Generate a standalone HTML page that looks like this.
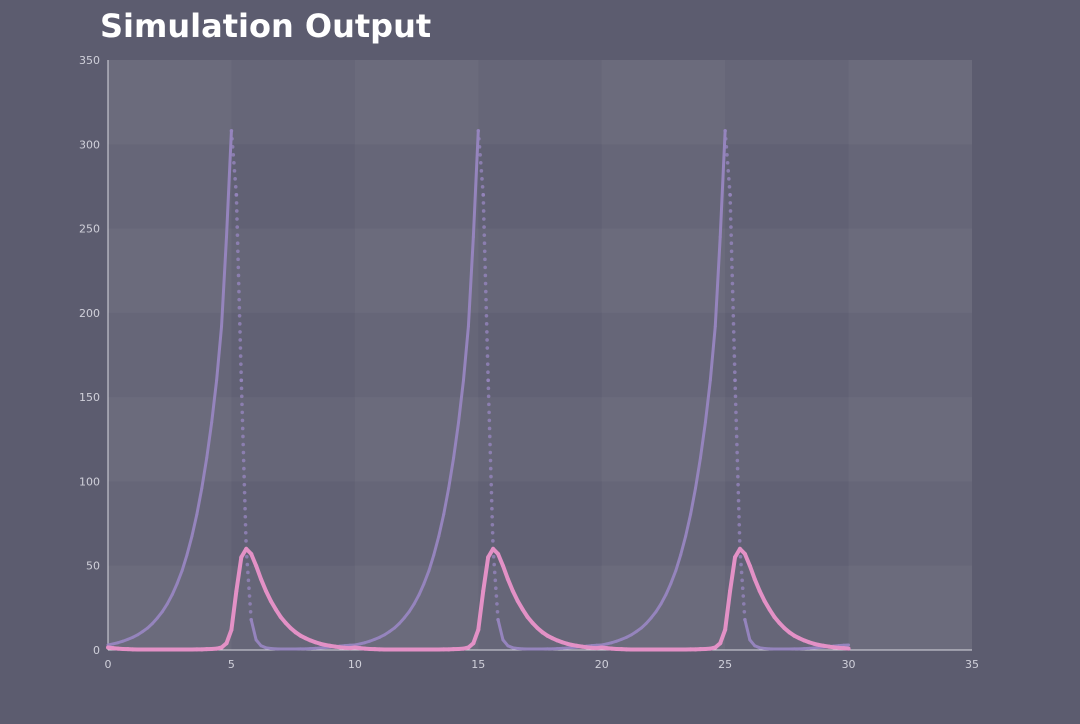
<!DOCTYPE html>
<html><head><meta charset="utf-8">
<style>
html,body{margin:0;padding:0;background:#5c5c6f;}
body{width:1080px;height:720px;overflow:hidden;font-family:"DejaVu Sans","Liberation Sans",sans-serif;}
</style></head>
<body>
<svg id="chart" width="1080" height="720">
<text x="100" y="37" fill="#ffffff" font-size="32" font-weight="bold">Simulation Output</text>
<g id="grid"></g>
<g id="axes"></g>
<g id="series"></g>
</svg>
<script>
const dt = 0.2;
const preyCycle = [3,3.6,4.3,5.2,6.3,7.5,9,10.9,13,15.7,19,22.7,27.3,32.8,39.4,47,56.5,67.5,80.5,96,114,135,160,192,245,308,270,160,60,18,6,2.5,1.3,0.9,0.7,0.6,0.6,0.6,0.6,0.65,0.7,0.8,1,1.2,1.5,1.7,2,2.3,2.6,2.8];
const predCycle = [1.5,1.1,0.8,0.6,0.5,0.4,0.3,0.3,0.3,0.3,0.3,0.3,0.3,0.3,0.3,0.3,0.3,0.3,0.4,0.4,0.5,0.6,0.8,1.5,4,12,35,55,60,57,50,42,35,29,24,19.5,16,13,10.5,8.5,7,5.7,4.6,3.7,3,2.5,2,1.6,1.3,1.1];
const prey = preyCycle.concat(preyCycle, preyCycle, [3]);
const predator = predCycle.concat(predCycle, predCycle, [0.8]);
const xTicks = [0,5,10,15,20,25,30,35];
const yTicks = [0,50,100,150,200,250,300,350];

const X0=108,X1=972,Y0=650,Y1=60;
const xs = v => X0 + v/35*(X1-X0);
const ys = v => Y0 - v/350*(Y0-Y1);
const NS="http://www.w3.org/2000/svg";
function mk(tag, attrs, parent){const e=document.createElementNS(NS,tag);for(const k in attrs)e.setAttribute(k,attrs[k]);parent.appendChild(e);return e;}
const grid=document.getElementById('grid'), axes=document.getElementById('axes'), series=document.getElementById('series');

const bg = mk('rect',{x:X0,y:Y1,width:X1-X0,height:Y0-Y1,fill:'#616174'},grid);


for(let i=0;i<7;i++){
  if(i%2===0){
    const r=mk('rect',{x:X0,y:ys(yTicks[i+1]),width:X1-X0,height:ys(yTicks[i])-ys(yTicks[i+1]),fill:'rgba(255,255,255,0.035)'},grid);
    
    
    const c=mk('rect',{x:xs(xTicks[i]),y:Y1,width:xs(xTicks[i+1])-xs(xTicks[i]),height:Y0-Y1,fill:'rgba(255,255,255,0.035)'},grid);
    
    
  }
}
const xa=mk('line',{x1:X0,y1:Y0,x2:X1,y2:Y0,stroke:'#d8d8e0','stroke-width':1},axes);


const ya=mk('line',{x1:X0,y1:Y0,x2:X0,y2:Y1,stroke:'#d8d8e0','stroke-width':1},axes);


xTicks.forEach(t=>{
  const l=mk('text',{x:xs(t),y:Y0+18,'text-anchor':'middle',fill:'#d0d0da','font-size':11},axes);
  l.textContent=t;
  
  
});
yTicks.forEach(t=>{
  const l=mk('text',{x:X0-8,y:ys(t)+4,'text-anchor':'end',fill:'#d0d0da','font-size':11},axes);
  l.textContent=t;
  
  
});
function draw(vals,color,name,width){
  const g=mk('g',{},series);
  
  
  for(let i=1;i<vals.length;i++){
    const xa=xs((i-1)*dt), ya=ys(vals[i-1]), xb=xs(i*dt), yb=ys(vals[i]);
    const len=Math.hypot(xb-xa,yb-ya);
    if(!(yb-ya>25)){
      const s=mk('line',{x1:xa,y1:ya,x2:xb,y2:yb,stroke:color,'stroke-width':width,'stroke-linecap':'round'},g);
      
      
    } else {
      const n=Math.round(len/8);
      for(let k=0;k<=n;k++){
        const c=mk('circle',{cx:xa+(xb-xa)*k/n,cy:ya+(yb-ya)*k/n,r:1.8,fill:color,'fill-opacity':0.8},g);
        
        
      }
    }
  }
}
draw(prey,'#9584bd','prey-series',3);
draw(predator,'#e391c6','predator-series',4);
</script>
</body></html>
